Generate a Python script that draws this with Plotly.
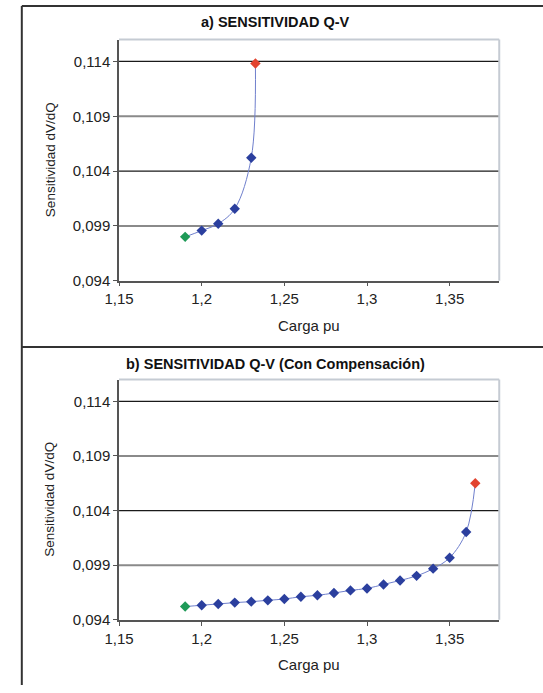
import plotly.graph_objects as go

# ---- data ----
x_a = [1.19, 1.20, 1.21, 1.22, 1.23, 1.2325]
y_a = [0.0980, 0.09857, 0.09920, 0.10056, 0.10522, 0.11382]

x_b = [1.19, 1.20, 1.21, 1.22, 1.23, 1.24, 1.25, 1.26, 1.27, 1.28,
       1.29, 1.30, 1.31, 1.32, 1.33, 1.34, 1.35, 1.36, 1.3655]
y_b = [0.09521, 0.09533, 0.09545, 0.09557, 0.09566, 0.09578, 0.09590,
       0.09611, 0.09624, 0.09645, 0.09669, 0.09687, 0.09723, 0.09760,
       0.09802, 0.09868, 0.09968, 0.10204, 0.10651]

x_ticks = [1.15, 1.20, 1.25, 1.30, 1.35]
x_labels = ["1,15", "1,2", "1,25", "1,3", "1,35"]
y_ticks = [0.094, 0.099, 0.104, 0.109, 0.114]
y_labels = ["0,094", "0,099", "0,104", "0,109", "0,114"]
grid_dark = [0.104, 0.114]
grid_gray = [0.099, 0.109]

titles = ["a) SENSITIVIDAD Q-V", "b) SENSITIVIDAD Q-V (Con Compensación)"]
x_title = "Carga pu"
y_title = "Sensitividad dV/dQ"

X_RANGE = [1.15, 1.38]
Y_RANGE = [0.094, 0.116]

W, H = 543, 693
FONT = "Liberation Sans, Arial, sans-serif"
BLUE = "#2b3f9e"
LINE = "#6f7fcc"
GREEN = "#1e9a57"
RED = "#e2432f"

def py(pix):
    return 1 - pix / H

def px(pix):
    return pix / W

xdom = [px(107), px(498)]
panels = [
    dict(top=40, bot=284, title_y=22, xt_y=329, data=(x_a, y_a)),
    dict(top=384, bot=627, title_y=368, xt_y=672, data=(x_b, y_b)),
]

fig = go.Figure()
layout = dict(
    width=W, height=H,
    margin=dict(l=0, r=0, t=0, b=0),
    paper_bgcolor="white", plot_bgcolor="white",
    showlegend=False,
    font=dict(family=FONT, size=15, color="#222"),
    annotations=[], shapes=[],
)

for i, p in enumerate(panels):
    n = i + 1
    xa = "x" if n == 1 else f"x{n}"
    ya = "y" if n == 1 else f"y{n}"
    xs, ys = p["data"]
    ydom = [py(p["bot"]), py(p["top"])]
    colors = [GREEN] + [BLUE] * (len(xs) - 2) + [RED]
    fig.add_trace(go.Scatter(
        x=xs, y=ys, mode="lines+markers",
        line=dict(color=LINE, width=1, shape="spline", smoothing=1),
        marker=dict(symbol="diamond", size=8, color=colors,
                    line=dict(width=0)),
        xaxis=xa, yaxis=ya, hoverinfo="skip",
    ))
    layout["xaxis" if n == 1 else f"xaxis{n}"] = dict(
        domain=xdom, anchor=ya, range=X_RANGE,
        tickvals=x_ticks, ticktext=x_labels,
        ticks="outside", ticklen=4, tickcolor="#555",
        showline=True, linecolor="#555", linewidth=1.5,
        showgrid=False, zeroline=False,
        tickfont=dict(size=15, color="#222"),
    )
    layout["yaxis" if n == 1 else f"yaxis{n}"] = dict(
        domain=ydom, anchor=xa, range=Y_RANGE,
        tickvals=y_ticks, ticktext=y_labels,
        ticks="outside", ticklen=4, tickcolor="#555",
        showline=True, linecolor="#555", linewidth=1.5,
        showgrid=False, zeroline=False,
        tickfont=dict(size=15, color="#222"),
    )
    for vals, col, wid in [(grid_gray, "#8a8a8a", 2), (grid_dark, "#1a1a1a", 1.2)]:
        for v in vals:
            layout["shapes"].append(dict(
                type="line", xref=f"{xa} domain", yref=ya,
                x0=0, x1=1, y0=v, y1=v,
                line=dict(color=col, width=wid), layer="below"))
    layout["shapes"].append(dict(
        type="line", xref="paper", yref="paper",
        x0=xdom[0], x1=xdom[1], y0=ydom[1], y1=ydom[1],
        line=dict(color="#c5cbd3", width=2), layer="below"))
    layout["shapes"].append(dict(
        type="line", xref="paper", yref="paper",
        x0=xdom[1], x1=xdom[1], y0=ydom[0], y1=ydom[1],
        line=dict(color="#c5cbd3", width=2), layer="below"))
    layout["annotations"].append(dict(
        text=f"<b>{titles[i]}</b>", xref="paper", yref="paper",
        x=px(268), y=py(p["title_y"]), xanchor="center", yanchor="middle",
        showarrow=False, font=dict(size=14.5, color="#111")))
    layout["annotations"].append(dict(
        text=x_title, xref="paper", yref="paper",
        x=px(302), y=py(p["xt_y"]), xanchor="center", yanchor="middle",
        showarrow=False, font=dict(size=15, color="#222")))
    layout["annotations"].append(dict(
        text=y_title, xref="paper", yref="paper", textangle=-90,
        x=px(36), y=(ydom[0] + ydom[1]) / 2, xanchor="center", yanchor="middle",
        showarrow=False, font=dict(size=13.5, color="#222")))

for seg in [((7, 6), (W, 6)), ((7, 6), (7, H)), ((7, 351), (W, 351))]:
    (x0, y0), (x1, y1) = seg
    layout["shapes"].append(dict(
        type="line", xref="paper", yref="paper",
        x0=px(x0), y0=py(y0), x1=px(x1), y1=py(y1),
        line=dict(color="#333", width=2)))

fig.update_layout(**layout)
fig.write_html(
    "out.html",
    config={"displayModeBar": False},
    post_script="document.body.style.margin='0';document.body.style.overflow='hidden';",
)
